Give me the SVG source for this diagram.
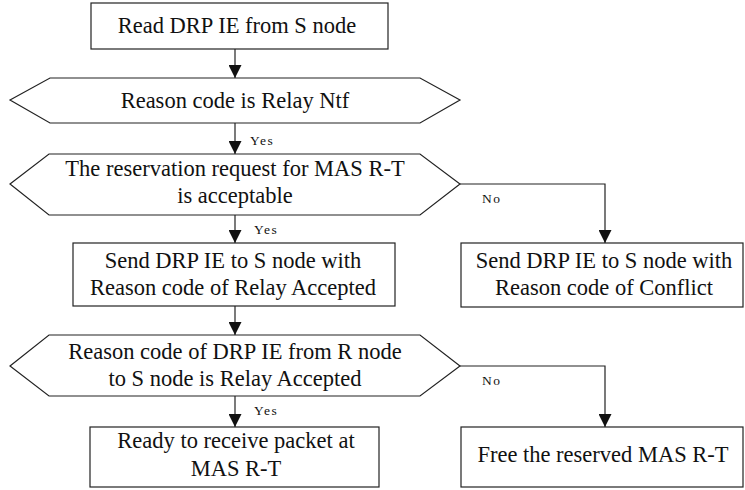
<svg xmlns="http://www.w3.org/2000/svg" width="745" height="490" viewBox="0 0 745 490">
  <style>
    .shape { fill: #ffffff; stroke: #222222; stroke-width: 1.2; }
    .edge { fill: none; stroke: #222222; stroke-width: 1.2; }
    .lbl { font-size: 22.5px; fill: #111111; text-anchor: middle; }
    .tag { font-size: 13.5px; fill: #111111; letter-spacing: 1.5px; }
  </style>
  <defs>
    <marker id="arrow" markerUnits="userSpaceOnUse" markerWidth="13" markerHeight="13" refX="13" refY="6.5" orient="auto">
      <path d="M0,0 L13,6.5 L0,13 Z" fill="#111111"/>
    </marker>
  </defs>

  <rect width="745" height="490" fill="#ffffff"/>

  <g font-family="'Liberation Serif', 'Times New Roman', 'DejaVu Serif', serif">
  <!-- connectors -->
  <g id="connectors">
    <line class="edge" x1="235" y1="49" x2="235" y2="78" marker-end="url(#arrow)"/>
    <line class="edge" x1="235" y1="123" x2="235" y2="154" marker-end="url(#arrow)"/>
    <line class="edge" x1="235" y1="215" x2="235" y2="243" marker-end="url(#arrow)"/>
    <polyline class="edge" points="460,184 605,184 605,243" marker-end="url(#arrow)"/>
    <line class="edge" x1="235" y1="306" x2="235" y2="335" marker-end="url(#arrow)"/>
    <line class="edge" x1="235" y1="396" x2="235" y2="427" marker-end="url(#arrow)"/>
    <polyline class="edge" points="460,366 605,366 605,427" marker-end="url(#arrow)"/>
    <text class="tag" x="250" y="145">Yes</text>
    <text class="tag" x="254" y="234">Yes</text>
    <text class="tag" x="482" y="203">No</text>
    <text class="tag" x="482" y="385">No</text>
    <text class="tag" x="254" y="415">Yes</text>
  </g>

  <!-- nodes -->
  <g id="read-ie">
    <rect class="shape" x="91" y="3" width="297" height="46"/>
    <text class="lbl" x="237" y="33">Read DRP IE from S node</text>
  </g>

  <g id="check-relay-ntf">
    <polygon class="shape" points="10,100 50,78 420,78 460,100 420,123 50,123"/>
    <text class="lbl" x="235" y="108">Reason code is Relay Ntf</text>
  </g>

  <g id="check-acceptable">
    <polygon class="shape" points="10,184 49,154 420,154 460,184 420,215 49,215"/>
    <text class="lbl" x="235" y="176">The reservation request for MAS R-T</text>
    <text class="lbl" x="235" y="203">is acceptable</text>
  </g>

  <g id="send-accepted">
    <rect class="shape" x="73" y="243" width="322" height="63"/>
    <text class="lbl" x="233" y="268">Send DRP IE to S node with</text>
    <text class="lbl" x="233" y="295">Reason code of Relay Accepted</text>
  </g>

  <g id="send-conflict">
    <rect class="shape" x="461" y="243" width="282" height="64"/>
    <text class="lbl" x="604" y="268">Send DRP IE to S node with</text>
    <text class="lbl" x="604" y="295">Reason code of Conflict</text>
  </g>

  <g id="check-relay-accepted">
    <polygon class="shape" points="10,366 49,335 420,335 460,366 420,396 49,396"/>
    <text class="lbl" x="235" y="359">Reason code of DRP IE from R node</text>
    <text class="lbl" x="235" y="386">to S node is Relay Accepted</text>
  </g>

  <g id="ready-receive">
    <rect class="shape" x="90" y="427" width="289" height="60"/>
    <text class="lbl" x="236" y="448">Ready to receive packet at</text>
    <text class="lbl" x="236" y="476">MAS R-T</text>
  </g>

  <g id="free-mas">
    <rect class="shape" x="461" y="427" width="282" height="60"/>
    <text class="lbl" x="603" y="462">Free the reserved MAS R-T</text>
  </g>
  </g>
</svg>
